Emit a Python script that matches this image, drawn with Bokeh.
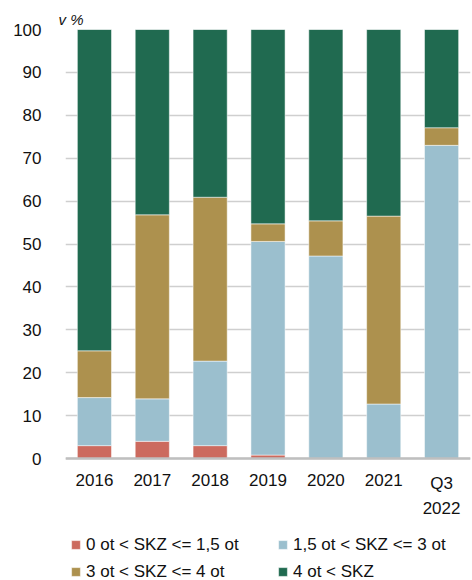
from bokeh.plotting import figure
from bokeh.models import Legend, LegendItem, FactorRange, FixedTicker, Span
from bokeh.core.properties import value
from bokeh.embed import file_html
from bokeh.resources import INLINE

categories = ["2016", "2017", "2018", "2019", "2020", "2021", "Q3 2022"]
cat_labels = ["2016", "2017", "2018", "2019", "2020", "2021", "Q3\n2022"]
band_0_15 = [3.0, 4.0, 3.0, 0.8, 0.0, 0.0, 0.0]
band_15_3 = [11.2, 9.9, 19.7, 49.8, 47.2, 12.7, 73.0]
band_3_4 = [10.9, 42.9, 38.2, 4.1, 8.2, 43.8, 4.1]
band_4_up = [74.9, 43.2, 39.1, 45.3, 44.6, 43.5, 22.9]
series_names = ["0 ot < SKZ <= 1,5 ot", "1,5 ot < SKZ <= 3 ot", "3 ot < SKZ <= 4 ot", "4 ot < SKZ"]
colors = ["#cc6a5e", "#9bbfce", "#ad914e", "#206a50"]
y_ticks = list(range(0, 101, 10))
unit_label = "v %"

FONT = "Liberation Sans"
W, H = 472, 580
TOP_PX, ZERO_PX = 29, 458.0          # screen rows of 100 and 0
PPU = (ZERO_PX - TOP_PX) / 100.0
y_lo = -(H - ZERO_PX) / PPU

data = {"cat": categories, "s1": band_0_15, "s2": band_15_3, "s3": band_3_4, "s4": band_4_up}

p = figure(x_range=FactorRange(*categories, range_padding=0), y_range=(y_lo, 100),
           width=W, height=H, output_backend="svg", toolbar_location=None,
           min_border_left=65, min_border_right=2, min_border_top=TOP_PX, min_border_bottom=0)
p.outline_line_color = None

p.title.text = unit_label
p.title.text_font = FONT
p.title.text_font_size = "15px"
p.title.text_font_style = "italic"
p.title.text_color = "#111111"
p.title.align = "left"
p.title.offset = -7
p.title.standoff = 4

rs = p.vbar_stack(["s1", "s2", "s3", "s4"], x="cat", width=0.59, color=colors,
                  line_color="white", line_width=0.5, source=data)

p.yaxis.ticker = FixedTicker(ticks=y_ticks)
p.yaxis.axis_line_color = None
p.yaxis.major_tick_line_color = None
p.yaxis.minor_tick_line_color = None
p.yaxis.major_label_standoff = 18
p.yaxis.major_label_text_font = FONT
p.yaxis.major_label_text_font_size = "17px"
p.yaxis.major_label_text_color = "#111111"
p.xaxis.visible = False

p.xgrid.grid_line_color = None
p.ygrid.grid_line_color = "#cfcfcf"
p.ygrid.grid_line_width = 1.5
p.ygrid.ticker = FixedTicker(ticks=y_ticks)

p.add_layout(Span(location=0, dimension="width", line_color="#bfbfbf", line_width=2.5))

p.text(x=categories, y=[0] * len(categories), text=cat_labels, text_font=value(FONT),
       text_font_size="17px", text_color="#111111", text_align="center",
       text_baseline="top", y_offset=15, text_line_height=1.32)

order = [0, 2, 1, 3]   # legend fills column by column; this gives row-wise reading order
legend = Legend(items=[LegendItem(label=series_names[i], renderers=[rs[i]]) for i in order],
                ncols=2, location=(5, -5))
legend.label_text_font = FONT
legend.label_text_font_size = "17px"
legend.label_text_color = "#111111"
legend.glyph_width = 11
legend.glyph_height = 11
legend.label_standoff = 5
legend.label_width = 191
legend.label_height = 27
legend.spacing = 0
legend.padding = 0
legend.margin = 0
legend.border_line_color = None
legend.background_fill_alpha = 0
p.add_layout(legend)

open("out.html", "w").write(file_html(p, INLINE))
